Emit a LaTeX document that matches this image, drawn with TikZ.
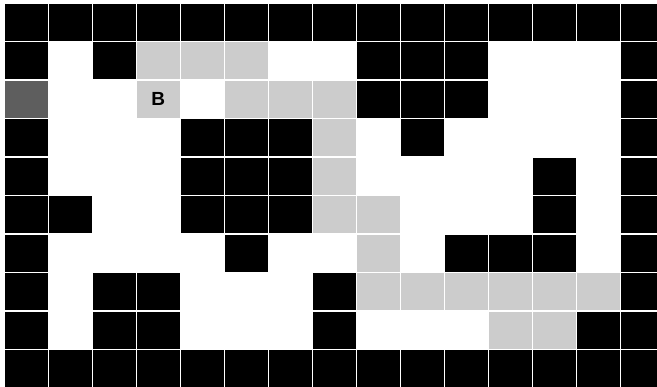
\documentclass[tikz,border=0pt]{standalone}
\usepackage{fontspec}
\setsansfont{Liberation Sans}
\tikzset{
  cell1/.style={fill=black},
  cell2/.style={fill=black!20},
  cell3/.style={fill=black!63},
  lbl/.style={font=\sffamily\bfseries\fontsize{19}{19}\selectfont, inner sep=0pt}
}
\begin{document}
\begin{tikzpicture}[x=1pt,y=-1pt]
\fill[white] (0,0) rectangle (657,387);
\useasboundingbox (0,0) rectangle (657,387);
\clip (0,0) rectangle (657,387);
\foreach \r/\row in {
0/{1,1,1,1,1,1,1,1,1,1,1,1,1,1,1},
1/{1,0,1,2,2,2,0,0,1,1,1,0,0,0,1},
2/{3,0,0,2,0,2,2,2,1,1,1,0,0,0,1},
3/{1,0,0,0,1,1,1,2,0,1,0,0,0,0,1},
4/{1,0,0,0,1,1,1,2,0,0,0,0,1,0,1},
5/{1,1,0,0,1,1,1,2,2,0,0,0,1,0,1},
6/{1,0,0,0,0,1,0,0,2,0,1,1,1,0,1},
7/{1,0,1,1,0,0,0,1,2,2,2,2,2,2,1},
8/{1,0,1,1,0,0,0,1,0,0,0,2,2,1,1},
9/{1,1,1,1,1,1,1,1,1,1,1,1,1,1,1}}
{
  \foreach \v [count=\c from 0] in \row {
    \ifnum\v>0
      \fill[cell\v] ({4.8+44*\c},{4+38.45*\r}) rectangle ++(43,37);
    \fi
  }
}
\node[lbl] (b) at (158.3,99.4) {B};
\end{tikzpicture}
\end{document}
